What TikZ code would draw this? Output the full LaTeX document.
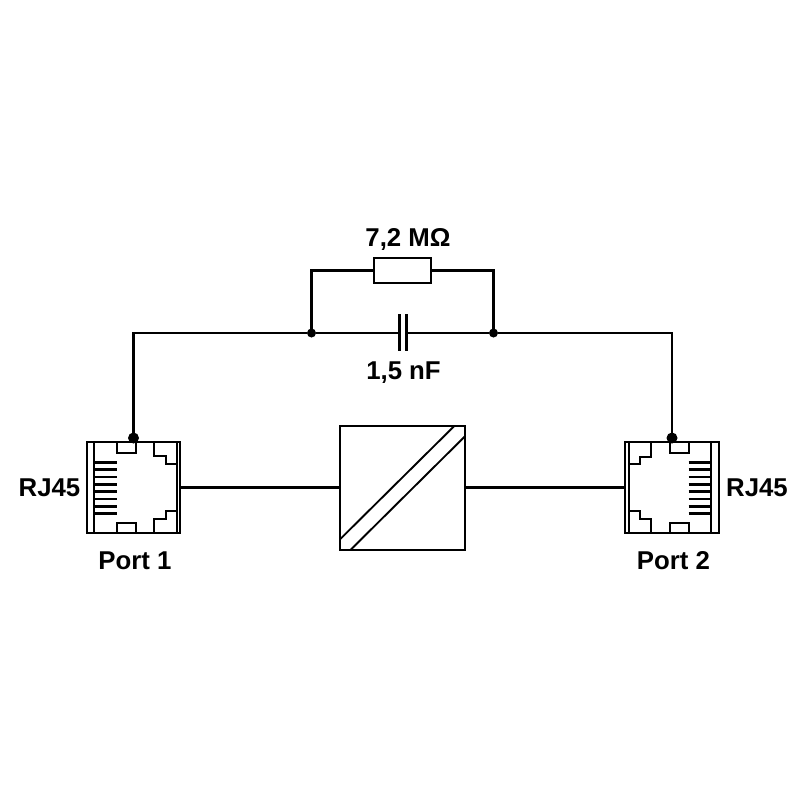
\documentclass[tikz,border=0pt]{standalone}
\usepackage{fontspec}
\setmainfont{Liberation Sans}
\tikzset{
    wire/.style = {line width = 2.4pt},
    thinline/.style = {line width = 1.6pt},
    part/.style = {draw, thinline, inner sep = 0, outer sep = 0},
    junction/.style = {circle, fill = black, inner sep = 0, outer sep = 0},
    label/.style = {font = \fontsize{22}{25}\selectfont\bfseries, inner sep = 0}
}

\begin{document}
\begin{tikzpicture}[x = 0.03cm, y = -0.03cm]

    \useasboundingbox (0,0) rectangle (800,800);

    % Coordinates
    \coordinate (capL) at (399.3,333);
    \coordinate (capR) at (406.3,333);

    % Junctions
    \node [junction, minimum size = 0.33cm] (dotA) at (133.5,438) {};
    \node [junction, minimum size = 0.33cm] (dotB) at (672,438) {};
    \node [junction, minimum size = 0.27cm] (junL) at (311.5,333) {};
    \node [junction, minimum size = 0.27cm] (junR) at (493.5,333) {};

    % Parts
    \node [part, minimum width = 1.73cm, minimum height = 0.75cm] (res) at (402.5,270.5) {};
    \node [part, minimum width = 3.76cm, minimum height = 3.71cm] (conv) at (402.7,487.8) {};
    \node [part, minimum width = 2.81cm, minimum height = 2.73cm] (portA) at (133.5,487.8) {};
    \node [part, minimum width = 2.82cm, minimum height = 2.73cm] (portB) at (671.7,487.8) {};

    % Port 1
    \draw [thinline] (94.3,442.3) -- (94.3,533.3);
    \draw [thinline] (176.7,442.3) -- (176.7,533.3);
    \draw [thinline] (116.7,442.3) |- (135.7,453.3) -- (135.7,442.3);
    \draw [thinline] (116.7,533.3) |- (135.7,522.7) -- (135.7,533.3);
    \draw [thinline] (154,442.3) |- (165.7,456) |- (176.7,464.3);
    \draw [thinline] (154,533.3) |- (165.7,518.7) |- (176.7,511);
    \foreach \i in {0,...,7}
        \draw [wire] (94.3,462.3+7.35*\i) -- (116.7,462.3+7.35*\i);

    % Port 2
    \draw [thinline] (629,442.3) -- (629,533.3);
    \draw [thinline] (711,442.3) -- (711,533.3);
    \draw [thinline] (669.7,442.3) |- (688.7,453.3) -- (688.7,442.3);
    \draw [thinline] (669.7,533.3) |- (688.7,522.7) -- (688.7,533.3);
    \draw [thinline] (651.3,442.3) |- (640,457.3) |- (629,464.3);
    \draw [thinline] (651.3,533.3) |- (640,518.7) |- (629,511);
    \foreach \i in {0,...,7}
        \draw [wire] (688.7,462.3+7.35*\i) -- (711,462.3+7.35*\i);

    % Converter diagonals
    \draw [thinline] (340,539.3) -- (454.3,426);
    \draw [thinline] (350.7,549.7) -- (465.3,436);

    % Capacitor
    \draw [wire] (399.3,314.3) -- (399.3,351.3);
    \draw [wire] (406.3,314.3) -- (406.3,351.3);

    % Wires
    \draw [wire] (dotA) |- (junL);
    \draw [wire] (junL) -- (capL);
    \draw [wire] (capR) -- (junR);
    \draw [wire] (junR) -| (dotB);
    \draw [wire] (junL) |- (res.west);
    \draw [wire] (res.east) -| (junR);
    \draw [wire] (portA.east) -- (conv.west);
    \draw [wire] (conv.east) -- (portB.west);

    % Labels
    \node [label] (resLabel) at (408,239) {7,2 MΩ};
    \node [label] (capLabel) at (403.5,373) {1,5 nF};
    \node [label] (rjA) at (49.5,488) {RJ45};
    \node [label] (rjB) at (757,488) {RJ45};
    \node [label] (nameA) at (135,561) {Port 1};
    \node [label] (nameB) at (673.5,561) {Port 2};

\end{tikzpicture}
\end{document}
